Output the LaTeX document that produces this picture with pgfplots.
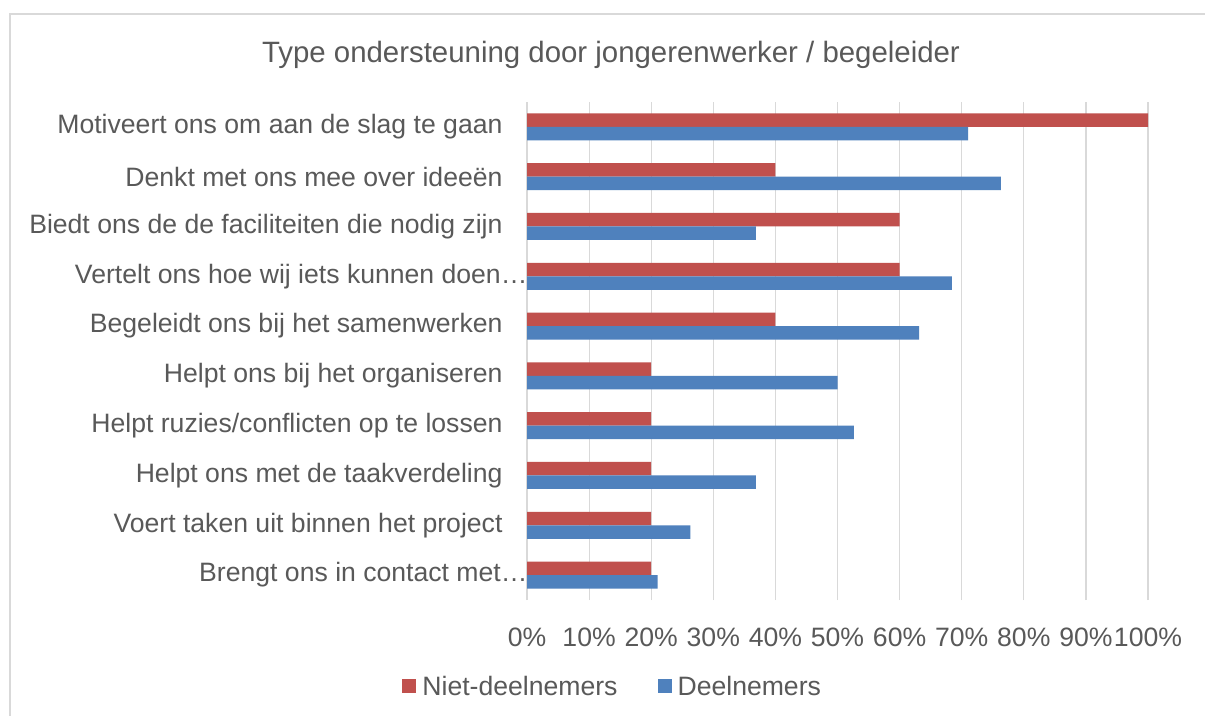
\documentclass[border=0pt]{standalone}
\usepackage{pgfplots}
\pgfplotsset{compat=1.18}
\usepackage{fontspec}
\setmainfont{Liberation Sans}
\definecolor{rd}{HTML}{C0504D}
\definecolor{bl}{HTML}{4F81BD}
\definecolor{gr}{HTML}{D9D9D9}
\definecolor{tx}{HTML}{595959}
\begin{document}
\begin{tikzpicture}
\useasboundingbox (0,0) rectangle (1205bp,716bp);
\fill[white] (0,0) rectangle (1205bp,716bp);
\draw[gr, line width=1.5bp] (10bp,0bp) -- (10bp,702bp) -- (1205bp,702bp);
\node[anchor=base, text=tx, font=\fontsize{29.4bp}{34bp}\selectfont, inner sep=0pt] at (611bp,653.3bp) {Type ondersteuning door jongerenwerker / begeleider};
\begin{axis}[
  at={(527bp,116bp)}, anchor=south west,
  scale only axis, width=621bp, height=498bp,
  xbar, bar width=13.5bp,
  xmin=0, xmax=100, ymin=-0.5, ymax=9.5,
  xtick={0,10,...,100}, ytick={0,...,9},
  yticklabels={Brengt ons in contact met…\kern-25bp, Voert taken uit binnen het project, Helpt ons met de taakverdeling, Helpt ruzies/conflicten op te lossen, Helpt ons bij het organiseren, Begeleidt ons bij het samenwerken, Vertelt ons hoe wij iets kunnen doen…\kern-25bp, Biedt ons de de faciliteiten die nodig zijn, Denkt met ons mee over ideeën, Motiveert ons om aan de slag te gaan},
  xticklabel={\pgfmathprintnumber{\tick}\%},
  /pgf/number format/assume math mode=true,
  axis line style={draw=none},
  major tick length=0pt,
  xmajorgrids, grid style={gr, line width=1.2bp},
  ymajorgrids=false,
  tick label style={text=tx, font=\fontsize{26.6bp}{30bp}\selectfont},
  xticklabel style={yshift=-24bp},
  yticklabel style={xshift=-21bp},
  legend style={at={(0.138,-0.173)}, anchor=center, draw=none, fill=none,
    font=\fontsize{26.6bp}{30bp}\selectfont, text=tx, legend columns=2,
    /tikz/every odd column/.append style={column sep=4bp},
    /tikz/every even column/.append style={column sep=38bp}},
  legend image code/.code={\fill[#1,draw=none] (0bp,-7bp) rectangle (14bp,7bp);},
]
\addplot[fill=rd, draw=none, bar shift=6.75bp] coordinates {
(20,0) (20,1) (20,2) (20,3) (20,4) (40,5) (60,6) (60,7) (40,8) (100,9)};
\addplot[fill=bl, draw=none, bar shift=-6.75bp] coordinates {
(21.05,0) (26.32,1) (36.84,2) (52.63,3) (50.0,4) (63.16,5) (68.42,6) (36.84,7) (76.32,8) (71.05,9)};
\legend{Niet-deelnemers, Deelnemers}
\end{axis}
\end{tikzpicture}
\end{document}
